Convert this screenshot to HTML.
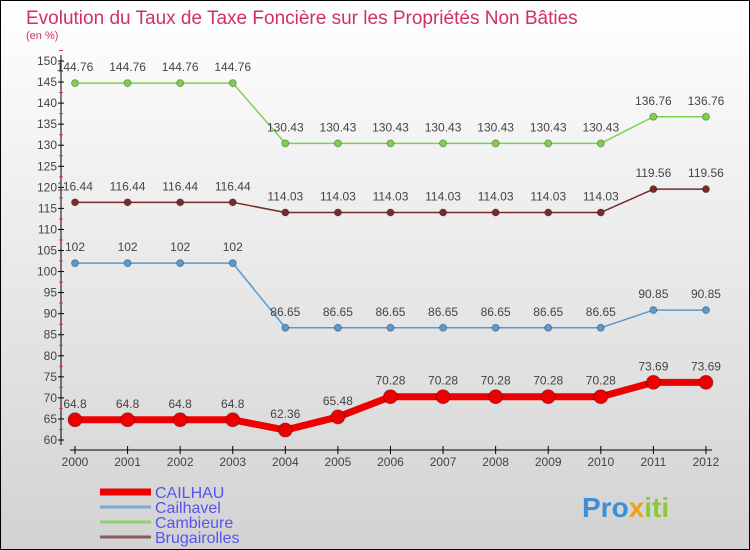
<!DOCTYPE html>
<html><head><meta charset="utf-8"><style>
body{margin:0;width:750px;height:550px;overflow:hidden}
svg{display:block;font-family:"Liberation Sans",sans-serif}
</style></head><body>
<svg id="c" width="750" height="550">
<defs><linearGradient id="bg" x1="0" y1="0" x2="0" y2="1"><stop offset="0" stop-color="#ffffff"/><stop offset="1" stop-color="#d2d2d2"/></linearGradient></defs>
<rect x="0.5" y="0.5" width="749" height="549" fill="url(#bg)" stroke="#000"/>
<text x="26" y="24" font-size="19" fill="#d0306a">Evolution du Taux de Taxe Foncière sur les Propriétés Non Bâties</text>
<text x="26" y="39" font-size="11" fill="#d0306a">(en %)</text>
<g id="axes"></g><g id="series"></g><g id="legend"></g>
<text x="582" y="517" font-size="28" font-weight="bold" fill="#3a8fd8">Pro<tspan fill="#f0a020">x</tspan><tspan fill="#8cc83c">iti</tspan></text>
</svg>
<script>
const years=["2000","2001","2002","2003","2004","2005","2006","2007","2008","2009","2010","2011","2012"];
const cailhau=[64.8,64.8,64.8,64.8,62.36,65.48,70.28,70.28,70.28,70.28,70.28,73.69,73.69];
const cailhavel=[102,102,102,102,86.65,86.65,86.65,86.65,86.65,86.65,86.65,90.85,90.85];
const cambieure=[144.76,144.76,144.76,144.76,130.43,130.43,130.43,130.43,130.43,130.43,130.43,136.76,136.76];
const brugairolles=[116.44,116.44,116.44,116.44,114.03,114.03,114.03,114.03,114.03,114.03,114.03,119.56,119.56];
const yTicks=[60,65,70,75,80,85,90,95,100,105,110,115,120,125,130,135,140,145,150];
const NS="http://www.w3.org/2000/svg";
const X=i=>75+i*52.58, Y=v=>440-(v-60)*(379/90);
function mk(p,t,a){const e=document.createElementNS(NS,t);for(const k in a)e.setAttribute(k,a[k]);p.appendChild(e);return e;}
const ax=document.getElementById('axes');
let e=mk(ax,'line',{x1:61,y1:55,x2:61,y2:445,stroke:'#000'});


e=mk(ax,'line',{x1:70,y1:450,x2:712,y2:450,stroke:'#000'});


yTicks.forEach(v=>{
 mk(ax,'line',{x1:58,x2:64,y1:Y(v),y2:Y(v),stroke:'#000'});
 mk(ax,'line',{x1:59,x2:63,y1:Y(v+2.5),y2:Y(v+2.5),stroke:'#e33'});
 const t=mk(ax,'text',{x:57,y:Y(v)+4,'font-size':12,'text-anchor':'end',fill:'#444'});t.textContent=v;
 
 
});
years.forEach((y,i)=>{
 mk(ax,'line',{x1:X(i),x2:X(i),y1:446,y2:454,stroke:'#000'});
 const t=mk(ax,'text',{x:X(i),y:466,'font-size':12,'text-anchor':'middle',fill:'#444'});t.textContent=y;
 
 
});
const sg=document.getElementById('series');
function draw(data,color,w,r,name){
 const g=mk(sg,'g',{});
 
 
 mk(g,'polyline',{points:data.map((v,i)=>X(i)+','+Y(v)).join(' '),fill:'none',stroke:color,'stroke-width':w,'stroke-linejoin':'round'});
 data.forEach((v,i)=>{
  const c=mk(g,'circle',{cx:X(i),cy:Y(v),r:r,fill:color,stroke:'rgba(0,0,0,0.3)'});
  
  
  const t=mk(g,'text',{x:X(i),y:Y(v)-12,'font-size':12,'text-anchor':'middle',fill:'#444'});t.textContent=v;
  
  
 });
}
draw(cambieure,'#80d050',1.5,3.5,'cambieure');
draw(brugairolles,'#7a2a2a',1.5,3.5,'brugairolles');
draw(cailhavel,'#5a9ad0',1.5,3.5,'cailhavel');
draw(cailhau,'#ee0000',7,7,'cailhau');
const lg=document.getElementById('legend');
[['CAILHAU','#ee0000',7],['Cailhavel','#7aaad0',3],['Cambieure','#90d070',3],['Brugairolles','#8a5a5a',3]].forEach((l,i)=>{
 const y=492+i*15;
 const g=mk(lg,'g',{});
 
 
 mk(g,'line',{x1:100,x2:151,y1:y,y2:y,stroke:l[1],'stroke-width':l[2]});
 const t=mk(g,'text',{x:155,y:y+6,'font-size':16,fill:'#5555ee'});t.textContent=l[0];
});
</script>
</body></html>
